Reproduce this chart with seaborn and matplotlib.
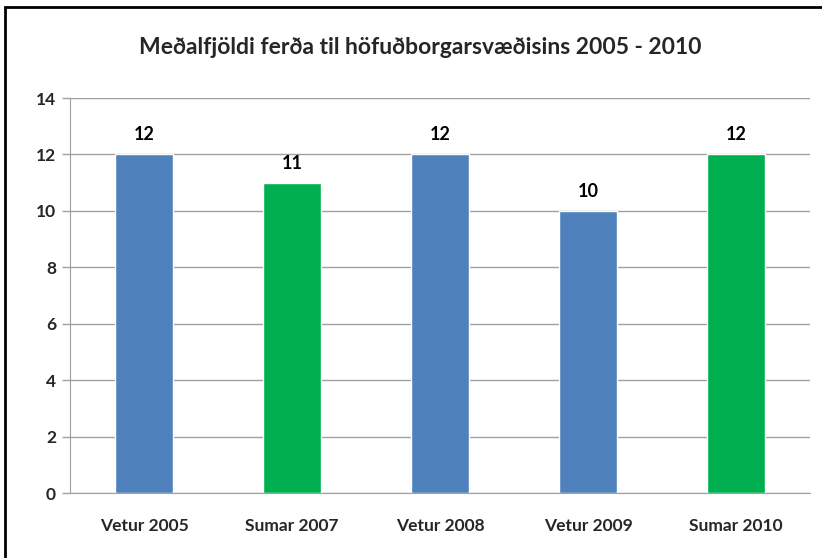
import matplotlib
matplotlib.use("Agg")
import matplotlib.pyplot as plt
import seaborn as sns
import pandas as pd
from matplotlib.patches import Rectangle

categories = ["Vetur 2005", "Sumar 2007", "Vetur 2008", "Vetur 2009", "Sumar 2010"]
values = [12, 11, 12, 10, 12]
colors = ["#4F81BD", "#00B050", "#4F81BD", "#4F81BD", "#00B050"]
title = "Meðalfjöldi ferða til höfuðborgarsvæðisins 2005 - 2010"
yticks = [0, 2, 4, 6, 8, 10, 12, 14]

sns.set_style("white")
plt.rcParams['font.family'] = ['Lato', 'DejaVu Sans']

df = pd.DataFrame({"cat": categories, "val": values})

fig = plt.figure(figsize=(8.22, 5.58), dpi=100)
ax = fig.add_axes([70/822, 65/558, 740/822, 395/558])

sns.barplot(data=df, x="cat", y="val", hue="cat", palette=colors, width=0.39,
            legend=False, ax=ax, saturation=1)

for c in ax.containers:
    ax.bar_label(c, fmt="%d", padding=8, fontsize=13, fontweight="bold", color="black")

ax.set_ylim(0, 14)
ax.set_xlim(-0.5, len(categories) - 0.5)
ax.set_yticks(yticks)
ax.set_yticklabels([str(v) for v in yticks], fontsize=12.5, fontweight="bold")
ax.yaxis.grid(True, color="#A0A0A0", linewidth=1)
ax.set_axisbelow(True)
ax.set_xlabel("")
ax.set_ylabel("")
ax.tick_params(axis="x", which="major", length=0, pad=18, labelsize=12.5)
for lab in ax.get_xticklabels():
    lab.set_fontweight("bold")
ax.set_xticks([i - 0.5 for i in range(len(categories) + 1)], minor=True)
ax.tick_params(axis="x", which="minor", length=6, color="#A0A0A0", width=1)
ax.tick_params(axis="y", length=6, color="#A0A0A0", width=1, pad=4, left=True)
for s in ["top", "right"]:
    ax.spines[s].set_visible(False)
ax.spines["left"].set_color("#A0A0A0")
ax.spines["bottom"].set_color("#A0A0A0")

fig.text(420/822, 1 - 47/558, title, ha="center", va="center", fontsize=16.5, fontweight="bold")

fig.patches.append(Rectangle((5/822, -0.1), 1.2, 1 - 7/558 + 0.1, transform=fig.transFigure,
                             fill=False, edgecolor="black", linewidth=2))

fig.savefig("out.png", dpi=100)
